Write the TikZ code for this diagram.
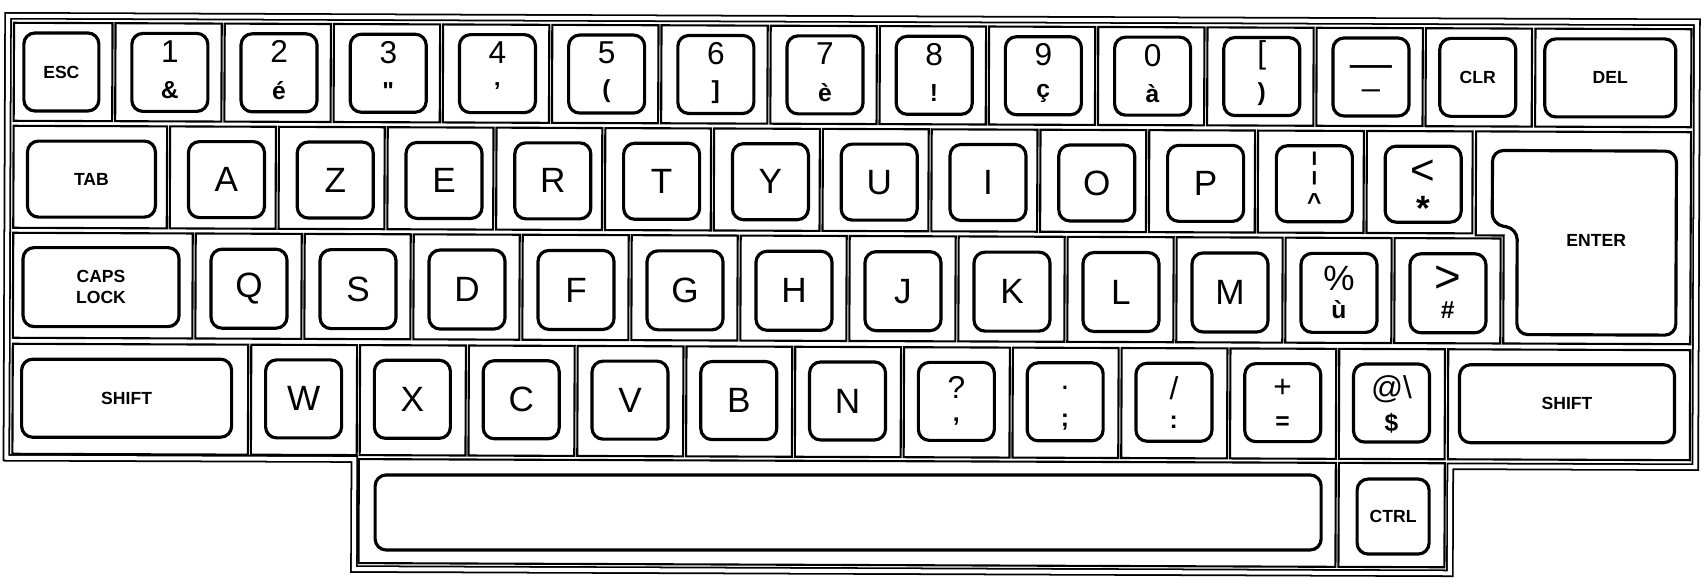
\documentclass[tikz,border=0pt]{standalone}
\usepackage{graphicx}
\usepackage{fontspec}
\setmainfont{Liberation Sans}
\usetikzlibrary{calc}
\tikzset{
  cellbox/.style={line width=0.6pt},
  framebox/.style={double,double distance=0.4mm,line width=0.5pt},
  keycap/.style={draw,line width=0.9pt,rounded corners=1.1mm,minimum width=7.6mm,minimum height=7.8mm,inner sep=0pt},
  bigtxt/.style={font=\fontsize{10}{12}\selectfont,inner sep=0.5pt},
  toptxt/.style={font=\fontsize{9}{11}\selectfont,inner sep=0.5pt},
  bottxt/.style={font=\fontsize{7}{8}\selectfont\bfseries,inner sep=0.5pt},
  ctltxt/.style={font=\fontsize{5}{6}\selectfont\bfseries,align=center},
}

\begin{document}
\begin{tikzpicture}[x=0.1mm,y=-0.1mm]
\useasboundingbox (0,0) rectangle (1703,578);
\begin{scope}[rotate around={-0.22:(850,290)}]
\draw[framebox] (7,19) -- (1696,19) -- (1696,464) -- (1451,464) -- (1451,571) -- (355,571) -- (355,461) -- (7,461) -- cycle;

% top row
\draw[cellbox] (13,26) rectangle (111.5,124);
\node[keycap,ctltxt,minimum width=7.5mm] (esc) at (60.5,75) {ESC};
\foreach \t/\b [count=\i, evaluate=\i as \xa using 113+(\i-1)*109.2] in {1/\&,2/é,3/\textquotedbl,4/',5/(,6/],7/è,8/!,9/ç,0/à,{[}/{)}}{
  \draw[cellbox] (\xa+1.5,26) rectangle (\xa+107.7,124);
  \node[keycap] (r1k\i) at (\xa+56,75) {};
  \node[toptxt] (r1t\i) at ([yshift=2.1mm]r1k\i.center) {\t};
  \node[bottxt] (r1b\i) at ([yshift=-1.75mm]r1k\i.center) {\b};
}
\draw[cellbox] (1315.7,26) rectangle (1421.9,124);
\node[keycap] (dash) at (1370.2,75) {};
\node[anchor=base,inner sep=0pt,font=\fontsize{5}{5}\selectfont\bfseries] (dasht) at ([yshift=0.2mm]dash.center) {\scalebox{2.4}[1.6]{—}};
\node[anchor=base,inner sep=0pt,font=\fontsize{6}{6}\selectfont\bfseries] (dashb) at ([yshift=-1.94mm]dash.center) {\scalebox{1.75}[1]{–}};
\draw[cellbox] (1424.9,26) rectangle (1531.1,124);
\node[keycap,ctltxt] (clr) at (1477,75) {CLR};
\draw[cellbox] (1534.5,26) rectangle (1690.5,124);
\node[keycap,ctltxt,minimum width=13.1mm] (del) at (1609.5,75) {DEL};

% second row
\draw[cellbox] (13,129) rectangle (166.5,231);
\node[keycap,ctltxt,minimum width=12.8mm,minimum height=7.6mm] (tab) at (91,182) {TAB};
\foreach \t [count=\i, evaluate=\i as \xa using 168+(\i-1)*108.8] in {A,Z,E,R,T,Y,U,I,O,P}{
  \draw[cellbox] (\xa+1.5,129) rectangle (\xa+107.3,231);
  \node[keycap,bigtxt,minimum height=7.6mm] (r2k\i) at (\xa+58,182) {\t};
}
\draw[cellbox] (1257.5,129) rectangle (1363.3,231);
\node[keycap,minimum height=7.6mm] (bar) at (1314,182) {};
\node[bigtxt] (bart) at ([yshift=1.5mm]bar.center) {¦};
\node[bottxt] (barb) at ([yshift=-1.8mm]bar.center) {\textasciicircum};
\draw[cellbox] (1366.3,129) rectangle (1472.1,231);
\node[keycap,minimum height=7.6mm] (less) at (1422.8,182) {};
\node[font=\fontsize{12}{12}\selectfont,align=center,inner sep=0pt] (lessl) at ([yshift=-0.6mm]less.center) {<\\[-2pt]{\fontsize{10}{10}\selectfont\bfseries *}};
\draw[cellbox] (1475.5,129) -- (1690.5,129) -- (1690.5,341) -- (1503.5,341) -- (1503.5,233) -- (1475.5,233) -- cycle;
\draw[line width=0.9pt,rounded corners=1.1mm] (1492,148) -- (1676,148) -- (1676,332) -- (1517,332) -- (1517,226) -- (1492,222) -- cycle;
\node[ctltxt] (enter) at (1596,238) {ENTER};

% third row
\draw[cellbox] (13,236) rectangle (192.5,341);
\node[keycap,ctltxt,minimum width=15.6mm,minimum height=7.9mm] (caps) at (101,290) {CAPS\\LOCK};
\foreach \t [count=\i, evaluate=\i as \xa using 194+(\i-1)*109] in {Q,S,D,F,G,H,J,K,L,M}{
  \draw[cellbox] (\xa+1.5,236) rectangle (\xa+107.5,341);
  \node[keycap,bigtxt,minimum height=7.9mm] (r3k\i) at (\xa+55,291) {\t};
}
\foreach \t/\b [count=\i, evaluate=\i as \xa using 194+(\i+9)*109] in {\%/ù,{\fontsize{13}{13}\selectfont>}/\#}{
  \draw[cellbox] (\xa+1.5,236) rectangle (\xa+107.5,341);
  \node[keycap,minimum height=7.9mm] (r3s\i) at (\xa+55,291) {};
  \node[bigtxt] (r3t\i) at ([yshift=1.4mm]r3s\i.center) {\t};
  \node[bottxt] (r3b\i) at ([yshift=-1.7mm]r3s\i.center) {\b};
}

% bottom row
\draw[cellbox] (13,347) rectangle (248.5,457);
\node[keycap,ctltxt,minimum width=21mm] (lshift) at (127,401) {SHIFT};
\foreach \t [count=\i, evaluate=\i as \xa using 250+(\i-1)*108.8] in {W,X,C,V,B,N}{
  \draw[cellbox] (\xa+1.5,347) rectangle (\xa+107.3,457);
  \node[keycap,bigtxt] (r4k\i) at (\xa+54,401) {\t};
}
\foreach \t/\b [count=\i, evaluate=\i as \xa using 250+(\i+5)*108.8] in {?/{,},./;,{/}/:,+/=,@\textbackslash/\$}{
  \draw[cellbox] (\xa+1.5,347) rectangle (\xa+107.3,457);
  \node[keycap] (r4s\i) at (\xa+54,401) {};
  \node[toptxt] (r4t\i) at ([yshift=1.4mm]r4s\i.center) {\t};
  \node[bottxt] (r4b\i) at ([yshift=-2mm]r4s\i.center) {\b};
}
\draw[cellbox] (1448.5,347) rectangle (1690.5,457);
\node[keycap,ctltxt,minimum width=21.5mm] (rshift) at (1567.5,401) {SHIFT};

% space bar and ctrl
\draw[cellbox] (359.5,461) rectangle (1336.5,565);
\node[keycap,minimum width=94.6mm,minimum height=7.5mm] (space) at (849,512.5) {};
\draw[cellbox] (1339.5,461) rectangle (1445.5,565);
\node[keycap,ctltxt,minimum width=7.2mm,minimum height=7.5mm] (ctrl) at (1394,514.5) {CTRL};
\end{scope}
\end{tikzpicture}
\end{document}
